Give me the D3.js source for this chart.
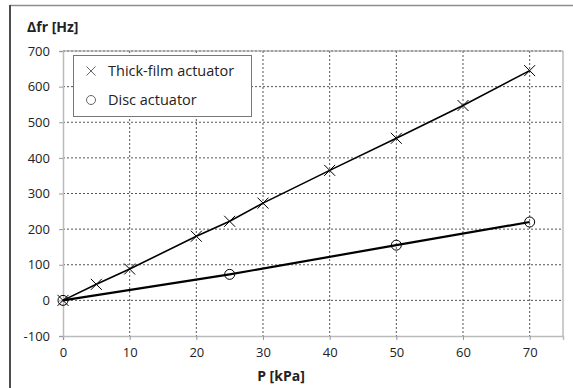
<!DOCTYPE html>
<html>
<head>
<meta charset="utf-8">
<script src="https://cdn.jsdelivr.net/npm/d3@7"></script>
<style>
  body { margin: 0; background: #fff; }
  svg text { font-family: "Open Sans", "Noto Sans", sans-serif; fill: #222; }
</style>
</head>
<body>
<div id="chart"></div>
<script>
var thickP = [0, 5, 10, 20, 25, 30, 40, 50, 60, 70];
var thickF = [0, 45, 88, 180, 222, 273, 365, 455, 547, 645];
var discP = [0, 25, 50, 70];
var discF = [0, 73, 155, 220];
var xTicks = [0, 10, 20, 30, 40, 50, 60, 70];
var yTicks = [-100, 0, 100, 200, 300, 400, 500, 600, 700];
var seriesNames = ['Thick-film actuator', 'Disc actuator'];

var width = 573, height = 388;
var margin = {left: 63, right: 10, top: 51, bottom: 52};

var svg = d3.select('#chart').append('svg')
  .attr('width', width)
  .attr('height', height);

// outer frame (only top and left visible in the crop)
svg.append('line')
  .attr('x1', 10).attr('x2', width).attr('y1', 5.5).attr('y2', 5.5)
  .attr('stroke', '#8c8c8c').attr('stroke-width', 1.5);
svg.append('line')
  .attr('x1', 10).attr('x2', 10).attr('y1', 5).attr('y2', height)
  .attr('stroke', '#4d4d4d').attr('stroke-width', 2);

var x = d3.scaleLinear().domain([0, 75]).range([margin.left, width - margin.right]);
var y = d3.scaleLinear().domain([-100, 700]).range([height - margin.bottom, margin.top]);

// grid
svg.append('g').selectAll('line')
  .data(xTicks.slice(1))
  .enter().append('line')
  .attr('x1', function(d) { return x(d); })
  .attr('x2', function(d) { return x(d); })
  .attr('y1', y(700)).attr('y2', y(-100))
  .attr('stroke', '#555').attr('stroke-dasharray', '2,2');

svg.append('g').selectAll('line')
  .data(yTicks.slice(1))
  .enter().append('line')
  .attr('x1', x(0)).attr('x2', x(75))
  .attr('y1', function(d) { return y(d); })
  .attr('y2', function(d) { return y(d); })
  .attr('stroke', '#555').attr('stroke-dasharray', '2,2');

// plot border (right/top) and axes
svg.append('path')
  .attr('d', 'M' + x(0) + ',' + y(700) + 'H' + x(75) + 'V' + y(-100))
  .attr('fill', 'none').attr('stroke', '#999');

var fmt = function(d) { return String(d); };
var xAxis = svg.append('g')
  .attr('transform', 'translate(0,' + y(-100) + ')')
  .call(d3.axisBottom(x).tickValues(xTicks).tickFormat(fmt).tickSize(4).tickPadding(8));
var yAxis = svg.append('g')
  .attr('transform', 'translate(' + x(0) + ',0)')
  .call(d3.axisLeft(y).tickValues(yTicks).tickFormat(fmt).tickSize(4).tickPadding(9));

[xAxis, yAxis].forEach(function(ax) {
  ax.select('.domain').attr('stroke', '#bbb').attr('stroke-width', 1.5);
  ax.selectAll('.tick line').attr('stroke', '#999');
  ax.selectAll('.tick text').style('font-size', '13px').attr('fill', '#222');
});

// titles
svg.append('text')
  .attr('x', 27).attr('y', 32)
  .style('font-size', '14px').style('font-weight', 'bold')
  .text('\u0394fr [Hz]');
svg.append('text')
  .attr('x', 281).attr('y', 381)
  .attr('text-anchor', 'middle')
  .style('font-size', '14px').style('font-weight', 'bold')
  .text('P [kPa]');

var line = d3.line()
  .x(function(d) { return x(d[0]); })
  .y(function(d) { return y(d[1]); });

var thick = d3.zip(thickP, thickF);
var disc = d3.zip(discP, discF);

svg.append('path').datum(thick).attr('d', line)
  .attr('fill', 'none').attr('stroke', '#000').attr('stroke-width', 1.6);
svg.append('path').datum(disc).attr('d', line)
  .attr('fill', 'none').attr('stroke', '#000').attr('stroke-width', 2.2);

function cross(g, s) {
  g.append('path')
    .attr('d', 'M' + (-s) + ',' + (-s) + 'L' + s + ',' + s + 'M' + (-s) + ',' + s + 'L' + s + ',' + (-s))
    .attr('stroke', '#000').attr('stroke-width', 1).attr('fill', 'none');
}

svg.append('g').selectAll('g')
  .data(thick).enter().append('g')
  .attr('transform', function(d) { return 'translate(' + x(d[0]) + ',' + y(d[1]) + ')'; })
  .each(function() { cross(d3.select(this), 5.5); });

svg.append('g').selectAll('circle')
  .data(disc).enter().append('circle')
  .attr('cx', function(d) { return x(d[0]); })
  .attr('cy', function(d) { return y(d[1]); })
  .attr('r', 5)
  .attr('fill', 'none').attr('stroke', '#000').attr('stroke-width', 1);

// legend
var lg = svg.append('g');
lg.append('rect')
  .attr('x', 73.5).attr('y', 55.5).attr('width', 178).attr('height', 61)
  .attr('fill', '#fff').attr('stroke', '#777');
var lcross = lg.append('g').attr('transform', 'translate(91,71)');
cross(lcross, 4.5);
lcross.select('path').attr('stroke', '#666');
lg.append('circle').attr('cx', 91).attr('cy', 100).attr('r', 4.5)
  .attr('fill', 'none').attr('stroke', '#666');
lg.selectAll('text.leg')
  .data(seriesNames).enter().append('text')
  .attr('class', 'leg')
  .attr('x', 108)
  .attr('y', function(d, i) { return 76 + i * 29; })
  .style('font-size', '14.5px')
  .text(function(d) { return d; });
</script>
</body>
</html>
